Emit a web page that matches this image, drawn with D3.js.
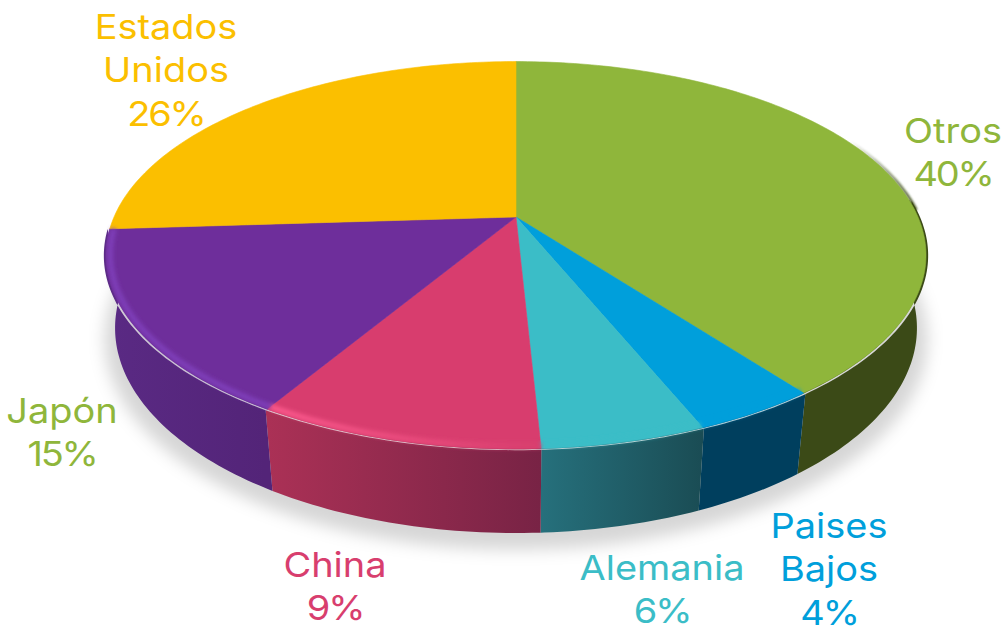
<!DOCTYPE html>
<html>
<head>
<meta charset="utf-8">
<script src="https://cdn.jsdelivr.net/npm/d3@7"></script>
<style>
  html, body { margin: 0; padding: 0; background: #fff; overflow: hidden; }
  text { font-family: Inter, "Open Sans", sans-serif; font-weight: 400; }
</style>
</head>
<body>
<div id="chart"></div>
<script>
// slices, clockwise from 12 o'clock
var categories = ["Otros", "Paises Bajos", "Alemania", "China", "Japón", "Estados Unidos"];
// share of each slice as measured on the drawing
var shares = [39.7, 4.1, 5.4, 9.4, 15.4, 26];
// percentages as printed on the labels
var printed = ["40%", "4%", "6%", "9%", "15%", "26%"];

var topColors = ["#8fb63b", "#009fdb", "#3bbdc7", "#d83e6e", "#6e2e9b", "#fbbf00"];
var rimColors = ["#8fb63b", "#009fdb", "#3bbdc7", "#ff5c90", "#8040bc", "#fbbf00"];
var sideLeft = ["#3b4a17", "#003f5e", "#26707c", "#ab3156", "#5a2a84", "#5a2a84"];
var sideRight = ["#3b4a17", "#003f5e", "#1a4c54", "#782345", "#532478", "#5a2a84"];
var textColors = ["#8fb63b", "#009fdb", "#3bbdc7", "#d83e6e", "#8fb63b", "#fbbf00"];

var width = 1008, height = 626;

// perspective disc: far edge is squeezed, near edge is stretched
var k = 0.198;
var topDisc = {x: 516, y: 217, a: 404, b: 187};
var bottomDisc = {x: 516, y: 287.4, a: 393, b: 197};

function project(disc, angle, r) {
  var u = r * Math.sin(angle), v = -r * Math.cos(angle), w = 1 - k * v;
  return [disc.x + disc.a * u / w, disc.y + disc.b * v / w];
}

function arcPoints(disc, a0, a1, r) {
  var step = Math.PI / 180;
  return d3.range(a0, a1, step).concat([a1]).map(function(a) { return project(disc, a, r); });
}

var line = d3.line();

var svg = d3.select("#chart").append("svg")
  .attr("width", width)
  .attr("height", height);

var defs = svg.append("defs");

function blur(id, dev) {
  defs.append("filter")
    .attr("id", id)
    .attr("x", "-20%").attr("y", "-20%")
    .attr("width", "140%").attr("height", "140%")
    .append("feGaussianBlur").attr("stdDeviation", dev);
}
blur("shadowBlur", 8);
blur("rimBlur", 2);
blur("faceBlur", 0.7);
blur("edgeBlur", 1);

var pie = d3.pie().sort(null).value(function(d) { return d; });
var slices = pie(shares);

function hGradient(id, x0, x1, c0, c1, o0) {
  var g = defs.append("linearGradient")
    .attr("id", id)
    .attr("gradientUnits", "userSpaceOnUse")
    .attr("x1", x0).attr("x2", x1)
    .attr("y1", 0).attr("y2", 0);
  g.append("stop").attr("offset", 0).attr("stop-color", c0).attr("stop-opacity", o0 === undefined ? 1 : o0);
  g.append("stop").attr("offset", 1).attr("stop-color", c1);
}

// ground shadow
svg.append("path")
  .attr("d", line(arcPoints(bottomDisc, 0, 2 * Math.PI, 1.025)) + "Z")
  .attr("transform", "translate(0,9)")
  .attr("fill", "#000")
  .attr("fill-opacity", 0.16)
  .attr("filter", "url(#shadowBlur)");

// side walls, only the near part of the ring is ever seen
var wallFrom = 85 * Math.PI / 180, wallTo = 270 * Math.PI / 180;
var wallSlices = slices.slice(0, 5);

function wallStart(d) { return Math.max(d.startAngle, wallFrom); }
function wallEnd(d) { return Math.min(d.endAngle, wallTo); }

var walls = svg.append("g");

walls.selectAll("path.wall")
  .data(wallSlices)
  .enter().append("path")
  .attr("class", "wall")
  .each(function(d, i) {
    var xs = arcPoints(topDisc, d.startAngle, d.endAngle, 1).map(function(p) { return p[0]; });
    hGradient("side" + i, d3.min(xs), d3.max(xs), sideLeft[i], sideRight[i]);
  })
  .attr("fill", function(d, i) { return "url(#side" + i + ")"; })
  .attr("d", function(d) {
    var pts = arcPoints(topDisc, wallStart(d), wallEnd(d), 1)
      .concat(arcPoints(bottomDisc, wallStart(d), wallEnd(d), 1).reverse());
    return line(pts) + "Z";
  });

// wall colour tucked under the face so no gap shows through the blur
walls.selectAll("path.tuck")
  .data(wallSlices)
  .enter().append("path")
  .attr("class", "tuck")
  .attr("fill", "none")
  .attr("stroke", function(d, i) { return "url(#side" + i + ")"; })
  .attr("stroke-width", 4)
  .attr("d", function(d) { return line(arcPoints(topDisc, wallStart(d), wallEnd(d), 0.99)); });

// dark edge showing past the top on the right, fading in from nothing
hGradient("edgeFade", 850, 915, sideLeft[0], sideLeft[0], 0);
svg.append("path")
  .attr("d", line(arcPoints(topDisc, slices[0].endAngle * 0.4, wallFrom + 0.05, 0.999)))
  .attr("fill", "none")
  .attr("stroke", "url(#edgeFade)")
  .attr("stroke-width", 2.5)
  .attr("filter", "url(#edgeBlur)");

// top face
svg.append("g")
  .attr("filter", "url(#faceBlur)")
  .selectAll("path")
  .data(slices)
  .enter().append("path")
  .attr("fill", function(d, i) { return topColors[i]; })
  .attr("stroke", function(d, i) { return topColors[i]; })
  .attr("stroke-width", 0.6)
  .attr("d", function(d) {
    return line([[topDisc.x, topDisc.y]].concat(arcPoints(topDisc, d.startAngle, d.endAngle, 0.995))) + "Z";
  });

// soft bevel along the near rim
svg.append("g").selectAll("path")
  .data(slices.slice(1, 5))
  .enter().append("path")
  .each(function(d, i) {
    var xs = arcPoints(topDisc, d.startAngle, d.endAngle, 1).map(function(p) { return p[0]; });
    // the highlight dies out towards the right of the pink slice
    hGradient("rim" + i, d3.min(xs), d3.max(xs), rimColors[i + 1],
      i == 2 ? topColors[i + 1] : rimColors[i + 1]);
  })
  .attr("d", function(d) { return line(arcPoints(topDisc, d.startAngle, d.endAngle, 0.985)); })
  .attr("fill", "none")
  .attr("stroke", function(d, i) { return "url(#rim" + i + ")"; })
  .attr("stroke-width", 5)
  .attr("filter", "url(#rimBlur)");

// labels, stretched a little because the original face runs wide
var labelLines = [
  ["Otros", printed[0]],
  ["Paises", "Bajos", printed[1]],
  ["Alemania", printed[2]],
  ["China", printed[3]],
  ["Japón", printed[4]],
  ["Estados", "Unidos", printed[5]]
];
var labelAnchors = [[953, 143], [829, 538], [662, 580], [335, 577], [62, 423], [166, 39]];

svg.append("g").selectAll("text")
  .data(categories)
  .enter().append("text")
  .attr("text-anchor", "middle")
  .attr("font-size", 34.5)
  .attr("transform", function(d, i) { return "translate(" + labelAnchors[i][0] + ",0) scale(1.1,1)"; })
  .attr("fill", function(d, i) { return textColors[i]; })
  .each(function(d, i) {
    var n = labelLines[i].length;
    d3.select(this).selectAll("tspan")
      .data(labelLines[i])
      .enter().append("tspan")
      .attr("x", 0)
      .attr("y", function(t, j) { return labelAnchors[i][1] + j * 43.5; })
      // the digits sit tighter than the words
      .attr("letter-spacing", function(t, j) { return j == n - 1 ? -2 : 0; })
      .text(function(t) { return t; });
  });
</script>
</body>
</html>
